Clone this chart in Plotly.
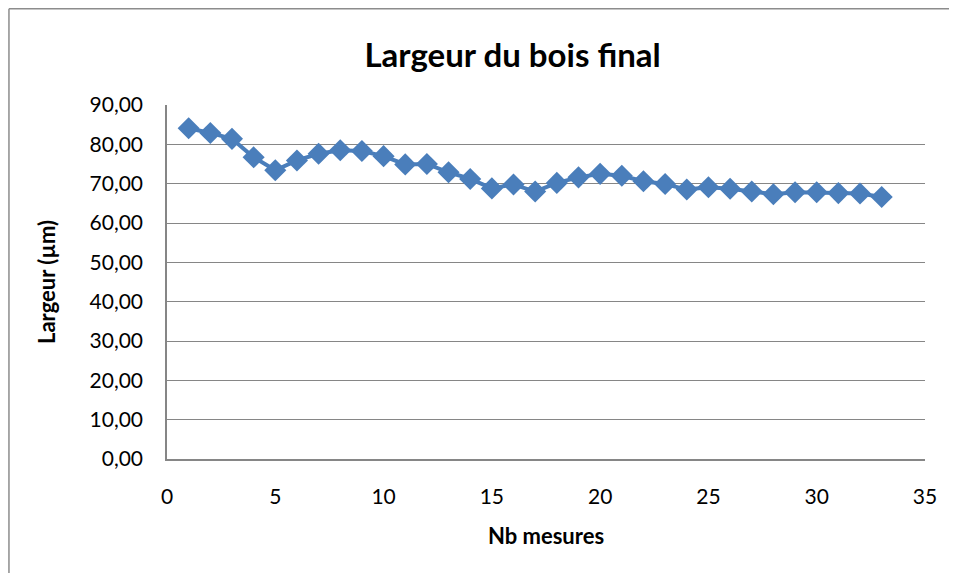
import plotly.graph_objects as go

mesures = list(range(1, 34))
largeur = [84.1, 82.9, 81.4, 76.7, 73.4, 75.9, 77.6, 78.5, 78.3, 77.0,
           74.9, 75.0, 72.9, 71.2, 68.8, 69.8, 68.0, 70.2, 71.6, 72.5,
           72.0, 70.6, 69.9, 68.5, 69.1, 68.7, 68.0, 67.3, 67.8, 67.8,
           67.6, 67.5, 66.6]

x_ticks = [0, 5, 10, 15, 20, 25, 30, 35]
y_ticks = [0, 10, 20, 30, 40, 50, 60, 70, 80, 90]

font_family = "Lato, 'Open Sans', sans-serif"
blue = "#4a7ebb"
grid = "#868686"
frame = "#8c8c8c"

fig = go.Figure()
fig.add_trace(go.Scatter(
    x=mesures, y=largeur, mode="lines+markers",
    line=dict(color=blue, width=4),
    marker=dict(symbol="diamond", size=17, color=blue),
    showlegend=False,
))

fig.update_layout(
    width=945, height=565,
    margin=dict(l=159, r=28, t=97, b=114),
    paper_bgcolor="white", plot_bgcolor="white",
    separators=", ",
    font=dict(family=font_family, color="black", size=21),
    title=dict(text="<b>Largeur du bois final</b>", x=0.534, xanchor="center",
               y=0.9168, yanchor="middle", font=dict(size=33, family=font_family)),
    xaxis=dict(range=[0, 35], tickvals=x_ticks, showgrid=False,
               showline=True, linecolor=grid, linewidth=1.5, ticks="",
               ticklabelstandoff=18,
               title=dict(text="<b>Nb mesures</b>", font=dict(size=22), standoff=22)),
    yaxis=dict(range=[0, 90], tickvals=y_ticks, tickformat=".2f",
               showgrid=True, gridcolor=grid, gridwidth=1.3,
               showline=True, linecolor=grid, linewidth=1.5, ticks="",
               ticklabelstandoff=18, zeroline=False,
               title=dict(text="<b>Largeur (µm)</b>", font=dict(size=22), standoff=28)),
    shapes=[
        dict(type="line", xref="paper", yref="paper",
             x0=-0.2085, x1=-0.2085, y0=-0.5, y1=1.272,
             line=dict(color=frame, width=1.5), layer="below"),
        dict(type="line", xref="paper", yref="paper",
             x0=-0.2085, x1=1.2, y0=1.272, y1=1.272,
             line=dict(color=frame, width=1.5), layer="below"),
    ],
)

fig.write_html("out.html")
